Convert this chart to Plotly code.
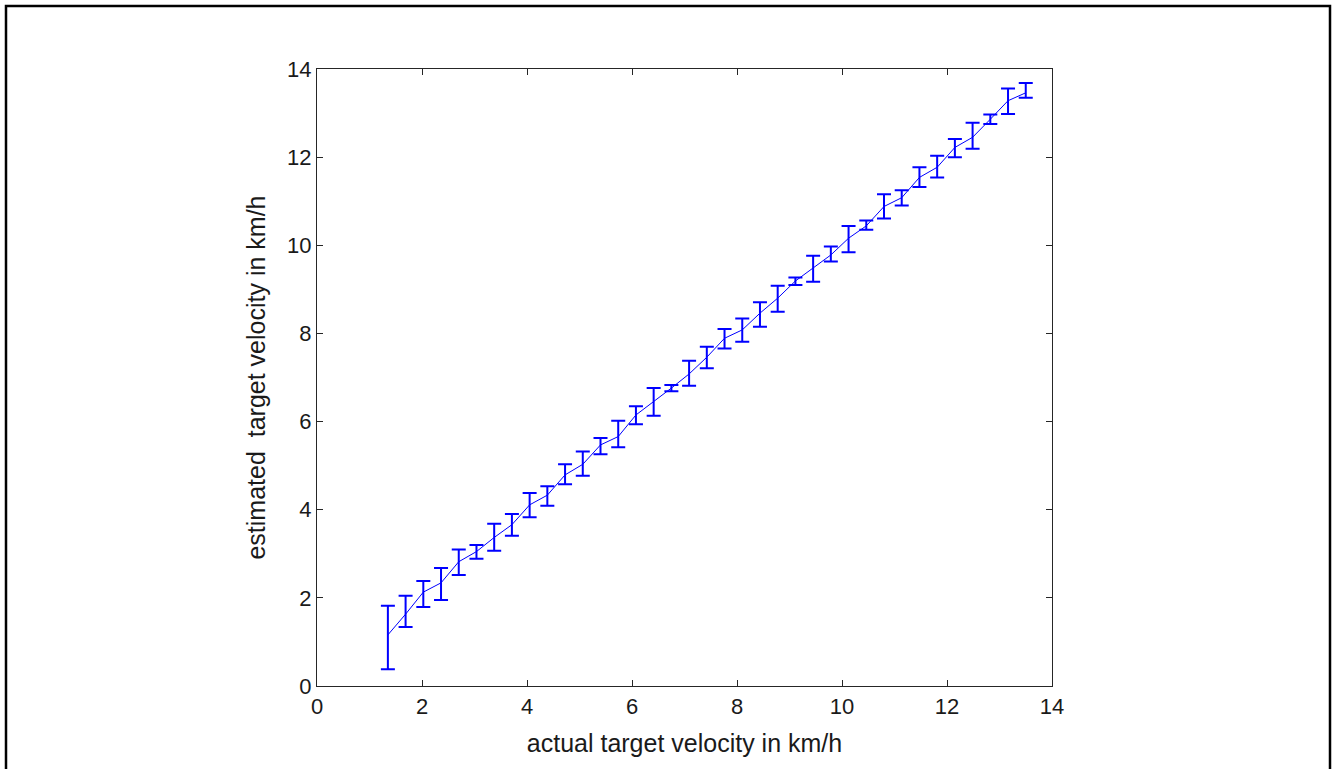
import plotly.graph_objects as go

# actual velocity (km/h)
x_vals = [1.35 + i * 0.3375 for i in range(37)]
# estimated mean velocity (km/h)
y_mean = [1.16, 1.63, 2.13, 2.34, 2.82, 3.05, 3.37, 3.66, 4.11, 4.33,
          4.79, 5.03, 5.47, 5.66, 6.15, 6.45, 6.76, 7.08, 7.46, 7.89,
          8.08, 8.46, 8.80, 9.19, 9.48, 9.78, 10.16, 10.44, 10.88, 11.08,
          11.54, 11.77, 12.22, 12.45, 12.86, 13.28, 13.46]
# upper end of error bar
y_top = [1.82, 2.05, 2.38, 2.68, 3.10, 3.20, 3.68, 3.90, 4.38, 4.53,
         5.03, 5.32, 5.63, 6.02, 6.35, 6.76, 6.83, 7.38, 7.70, 8.10,
         8.34, 8.71, 9.08, 9.27, 9.76, 9.97, 10.44, 10.56, 11.16, 11.25,
         11.77, 12.03, 12.41, 12.78, 12.97, 13.56, 13.68]
# lower end of error bar
y_bot = [0.38, 1.34, 1.79, 1.95, 2.52, 2.89, 3.07, 3.41, 3.83, 4.09,
         4.58, 4.77, 5.26, 5.42, 5.94, 6.13, 6.69, 6.81, 7.21, 7.66,
         7.81, 8.15, 8.49, 9.10, 9.17, 9.63, 9.84, 10.35, 10.61, 10.90,
         11.32, 11.54, 12.00, 12.19, 12.75, 12.98, 13.35]

err_plus = [t - m for t, m in zip(y_top, y_mean)]
err_minus = [m - b for m, b in zip(y_mean, y_bot)]

tick_vals = [0, 2, 4, 6, 8, 10, 12, 14]

FONT = "Liberation Sans, Arial, sans-serif"
TXT = "#1a1a1a"

fig = go.Figure()
fig.add_trace(go.Scatter(
    x=x_vals, y=y_mean, mode="lines",
    line=dict(color="#0000FF", width=1),
    error_y=dict(type="data", symmetric=False, array=err_plus, arrayminus=err_minus,
                 color="#0000FF", thickness=2, width=7),
    showlegend=False, hoverinfo="skip",
))

axis_common = dict(
    range=[0, 14], tickvals=tick_vals, ticktext=[str(v) for v in tick_vals],
    showgrid=False, zeroline=False, showline=True, linecolor="#262626", linewidth=1.2,
    mirror="ticks", ticks="inside", ticklen=6, tickcolor="#262626",
    tickfont=dict(family=FONT, size=22, color=TXT),
)

fig.update_layout(
    width=1332, height=769,
    margin=dict(l=317, r=280, t=69, b=83),
    paper_bgcolor="white", plot_bgcolor="white",
    xaxis=dict(**axis_common,
               title=dict(text="actual target velocity in km/h",
                          font=dict(family=FONT, size=25, color=TXT), standoff=16)),
    yaxis=dict(**axis_common,
               title=dict(text="estimated\u00a0 target velocity in km/h",
                          font=dict(family=FONT, size=25, color=TXT), standoff=14)),
    shapes=[dict(type="rect", xref="paper", yref="paper",
                 x0=(6 - 317) / 735, x1=(1330 - 317) / 735,
                 y0=-0.2, y1=(686 - 6) / 617,
                 line=dict(color="black", width=2.5), fillcolor="rgba(0,0,0,0)", layer="below")],
)

fig.write_html("out.html", config={"displayModeBar": False},
               post_script="document.body.style.margin='0';")
